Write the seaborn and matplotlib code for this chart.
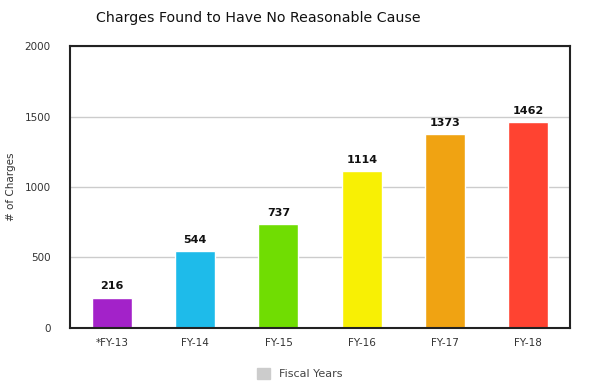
import numpy as np
import matplotlib
matplotlib.use("Agg")
import matplotlib.pyplot as plt
import seaborn as sns
import pandas as pd
from matplotlib.patches import Patch

years = ["*FY-13", "FY-14", "FY-15", "FY-16", "FY-17", "FY-18"]
charges = [216, 544, 737, 1114, 1373, 1462]
colors = ["#A322C9", "#1EBBEA", "#70DD02", "#F8F004", "#F0A312", "#FF4331"]

df = pd.DataFrame({"year": years, "charges": charges})

sns.set_style("white")
fig = plt.figure(figsize=(6, 3.9), dpi=100)
ax = fig.add_axes([0.117, 0.159, 0.833, 0.723])

sns.barplot(data=df, x="year", y="charges", hue="year", palette=colors,
            width=0.48, legend=False, ax=ax, saturation=1)

for i, v in enumerate(charges):
    ax.text(i, v + 45, str(v), ha="center", va="bottom",
            fontsize=8, fontweight="bold", color="#111111")

ax.set_ylim(0, 2000)
ax.set_xlim(-0.5, 5.5)
ax.set_yticks([0, 500, 1000, 1500, 2000])
ax.yaxis.grid(True, color="#cccccc", linewidth=1)
ax.set_axisbelow(True)
for s in ax.spines.values():
    s.set_visible(True)
    s.set_color("#222222")
    s.set_linewidth(1.5)

ax.tick_params(axis="y", length=8, color="#dddddd", labelsize=7.5,
               labelcolor="#333333", pad=6)
ax.tick_params(axis="x", which="major", length=0, labelsize=7.5,
               labelcolor="#333333", pad=7)
ax.set_xticks(np.arange(-0.5, 6, 1), minor=True)
ax.tick_params(axis="x", which="minor", length=5, color="#dddddd")

ax.set_xlabel("")
ax.set_ylabel("# of Charges", fontsize=7.5, color="#333333", labelpad=6)

fig.suptitle("Charges Found to Have No Reasonable Cause", fontsize=10.2,
             x=0.43, y=0.972, color="#111111")

handle = Patch(facecolor="#cccccc", edgecolor="#cccccc")
fig.legend([handle], ["Fiscal Years"], loc="center", bbox_to_anchor=(0.5, 0.042),
           frameon=False, fontsize=8, handlelength=1.2, handleheight=1.2,
           labelcolor="#444444")

fig.savefig("out.png", dpi=100)
